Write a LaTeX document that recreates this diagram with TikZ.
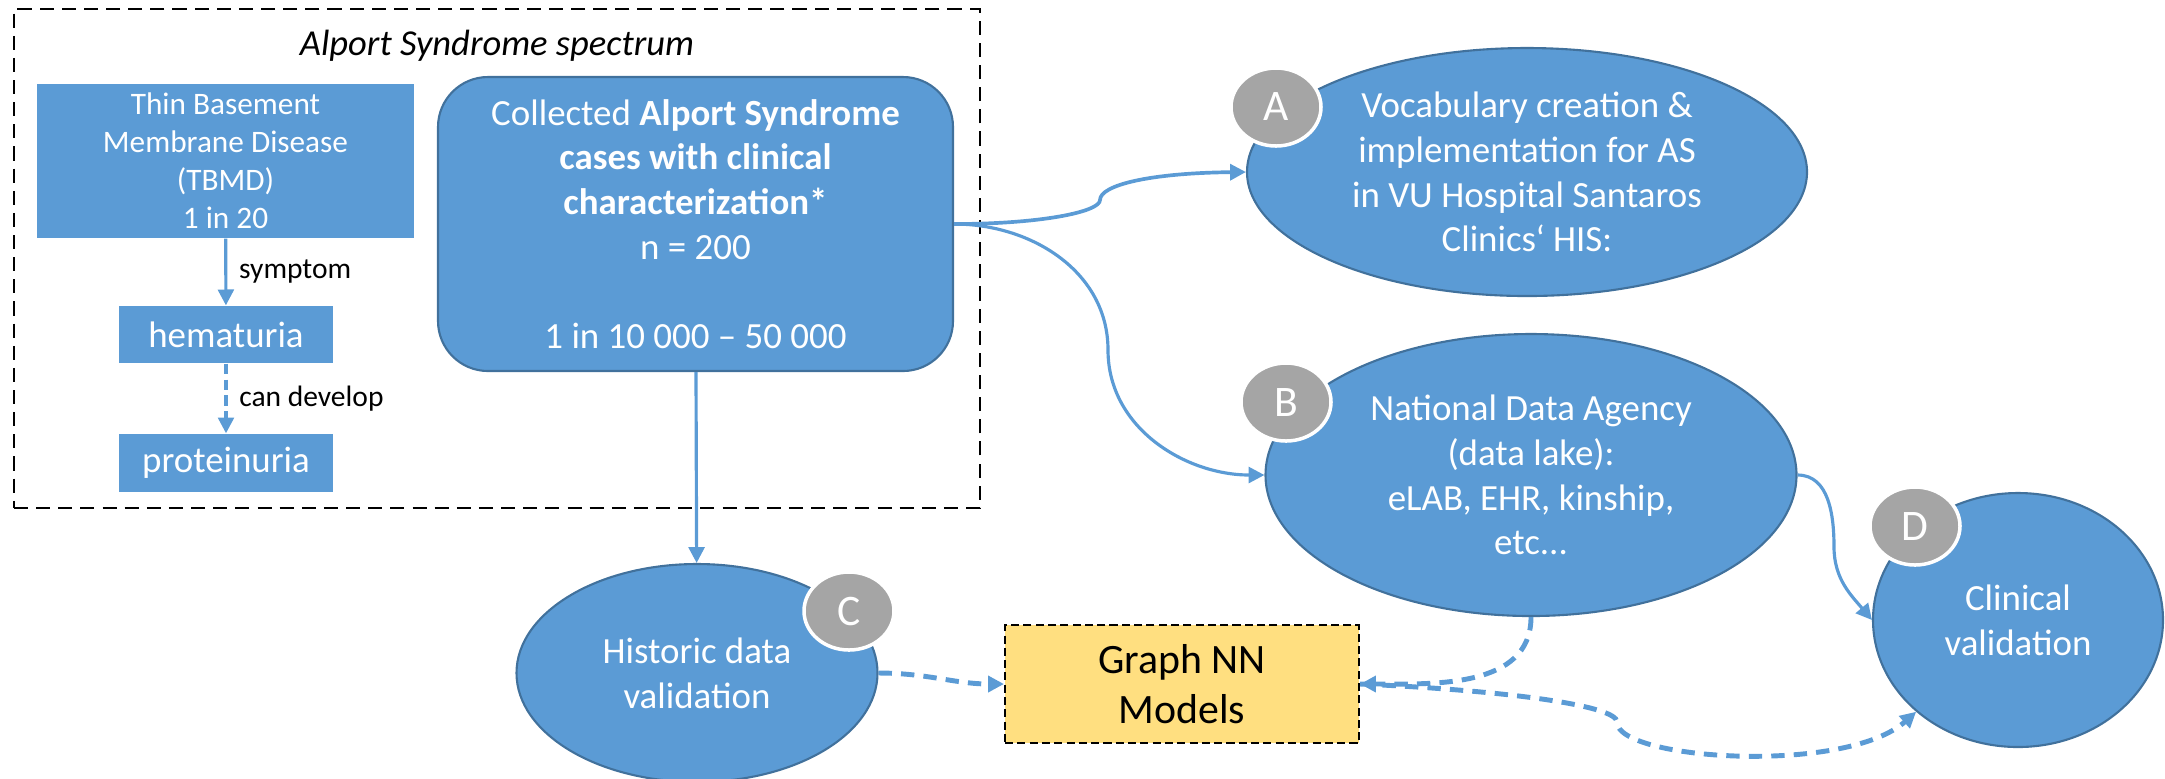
\documentclass[tikz,border=0pt]{standalone}
\usepackage{fontspec}
\setmainfont{Carlito}
\usetikzlibrary{shapes.geometric,arrows.meta}
\definecolor{asblue}{HTML}{5B9BD5}
\definecolor{asedge}{HTML}{41719C}
\definecolor{asgray}{HTML}{A5A5A5}
\definecolor{asgold}{HTML}{FFDF80}
\begin{document}
\begin{tikzpicture}[
  >={Triangle[length=4.5pt,width=4.5pt]},
  bluebox/.style={fill=asblue,text=white,align=center,inner sep=0pt},
  blueoval/.style={ellipse,fill=asblue,draw=asedge,line width=0.6pt,text=white,align=center,inner sep=0pt,font=\fontsize{10.5}{12.7}\selectfont},
  badge/.style={ellipse,fill=asgray,draw=white,line width=1pt,text=white,minimum width=0.9cm,minimum height=0.78cm,inner sep=0pt,font=\fontsize{12.4}{14}\selectfont},
  frame/.style={draw,line width=0.6pt,dash pattern=on 4pt off 2.3pt},
  link/.style={asblue,line width=0.9pt},
  dlink/.style={asblue,line width=1.4pt,dash pattern=on 3.8pt off 2.6pt},
  tag/.style={text=black,font=\fontsize{8.4}{10}\selectfont}
]
\useasboundingbox (0,0) rectangle (21.65,-7.78);

% Alport spectrum frame
\node[frame,minimum width=9.66cm,minimum height=4.99cm] (spectrum) at (4.97,-2.585) {};
\node[font=\itshape\fontsize{10.4}{12}\selectfont] (title) at (4.97,-0.46) {Alport Syndrome spectrum};

\node[bluebox,minimum width=3.77cm,minimum height=1.54cm,font=\fontsize{8.9}{10.8}\selectfont] (tbmd) at (2.255,-1.61) {Thin Basement\\Membrane Disease\\(TBMD)\\1 in 20};
\node[bluebox,minimum width=2.14cm,minimum height=0.57cm,font=\fontsize{10.5}{12.7}\selectfont] (hema) at (2.26,-3.345) {hematuria};
\node[bluebox,minimum width=2.14cm,minimum height=0.58cm,font=\fontsize{10.5}{12.7}\selectfont] (prot) at (2.26,-4.63) {proteinuria};
\node[bluebox,draw=asedge,line width=0.6pt,rounded corners=0.5cm,minimum width=5.15cm,minimum height=2.94cm,font=\fontsize{10.5}{12.7}\selectfont] (cases) at (6.955,-2.24) {Collected \textbf{Alport Syndrome}\\\textbf{cases with clinical}\\\textbf{characterization*}\\n = 200\\[12.7pt]1 in 10 000 -- 50 000};

\draw[link,->] (tbmd) -- node[right,tag]{symptom} (hema);
\draw[link,->,dash pattern=on 3pt off 1.5pt] (hema) -- node[right,tag]{can develop} (prot);

% work packages
\node[blueoval,minimum width=5.6cm,minimum height=2.48cm] (vocab) at (15.27,-1.72) {Vocabulary creation \&\\implementation for AS\\in VU Hospital Santaros\\Clinics‘ HIS:};
\node[blueoval,minimum width=5.31cm,minimum height=2.82cm] (agency) at (15.31,-4.75) {National Data Agency\\(data lake):\\eLAB, EHR, kinship,\\etc...};
\node[blueoval,minimum width=3.61cm,minimum height=2.18cm] (historic) at (6.97,-6.73) {Historic data\\validation};
\node[blueoval,minimum width=2.90cm,minimum height=2.54cm] (clinical) at (20.18,-6.20) {Clinical\\validation};
\node[draw,fill=asgold,line width=0.6pt,dash pattern=on 2.3pt off 1.2pt,align=center,minimum width=3.54cm,minimum height=1.18cm,inner sep=0pt,font=\fontsize{11.9}{14.2}\selectfont] (gnn) at (11.82,-6.84) {Graph NN\\Models};

\node[badge] (badgeA) at (12.76,-1.07) {A};
\node[badge] (badgeB) at (12.86,-4.02) {B};
\node[badge] (badgeC) at (8.49,-6.11) {C};
\node[badge] (badgeD) at (19.15,-5.26) {D};

% connectors
\draw[link,->] (cases) -- (historic);
\draw[link,->,line width=1.05pt] (cases.east) .. controls (10.40,-2.24) and (11.00,-2.12) .. (11.00,-2.00) .. controls (11.00,-1.85) and (11.50,-1.73) .. (vocab.west);
\draw[link,->] (cases.east) to[out=0,in=90] (11.08,-3.50) to[out=-90,in=180] (agency.west);
\draw[link,->] (agency.east) to[out=0,in=90] (18.34,-5.47) to[out=-90,in=130] (clinical.west);
\draw[dlink,->] (historic.east) to[out=0,in=180] (gnn.west);
\draw[dlink,->] (agency.south) to[out=-90,in=0] (gnn.east);
\draw[dlink,->] (gnn.east) .. controls (15.00,-6.90) and (16.17,-7.05) .. (16.17,-7.22) .. controls (16.17,-7.60) and (18.45,-7.75) .. (clinical.222);
\end{tikzpicture}
\end{document}
